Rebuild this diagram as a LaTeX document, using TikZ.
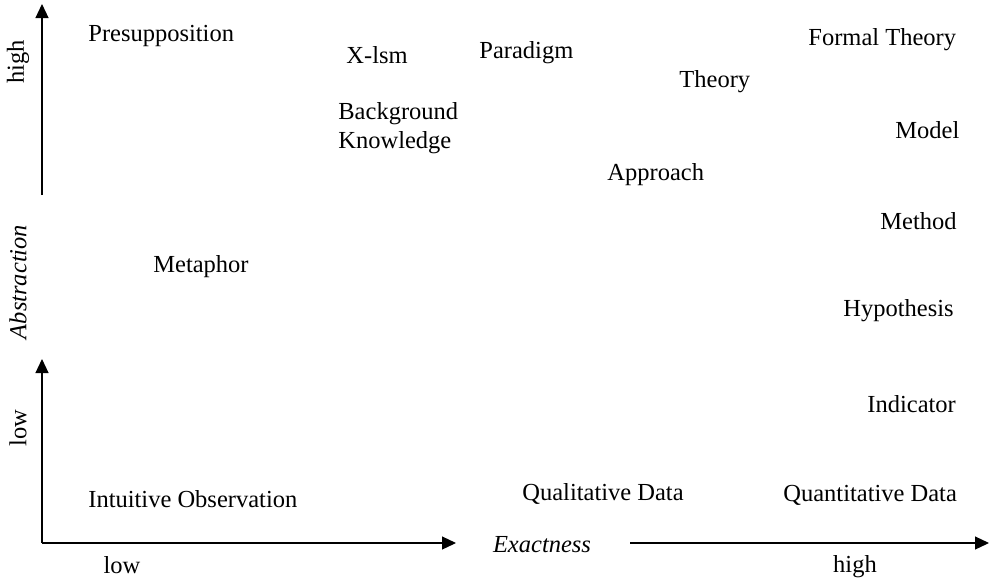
\documentclass[tikz,border=0pt]{standalone}
\usepackage{fontspec}
\setmainfont{Liberation Serif}
\usetikzlibrary{arrows.meta}
\def\axisx{42}
\def\axisy{543}
\newcommand{\concept}[4]{
    \node[concept] (#1) at (#2,-#3) {#4};
}
\tikzset{
    concept/.style={anchor=west, inner sep=0pt, align=left, yshift=-1.5pt,
        font=\fontsize{12.25}{14.5}\selectfont},
    axislabel/.style={inner sep=0pt, font=\fontsize{12.25}{14.5}\selectfont},
    axis/.style={line width=0.6pt, -{Triangle[length=7pt,width=6.5pt]}},
}

\begin{document}
\begin{tikzpicture}[x=0.5pt,y=0.5pt]
            \useasboundingbox (0,0) rectangle (990,-579);
            % axes
            \coordinate (origin) at (\axisx,-\axisy);
            \coordinate (vmid) at (\axisx,-195);
            \coordinate (vtop) at (\axisx,-4);
            \coordinate (vlow) at (\axisx,-359);
            \coordinate (hmid) at (456,-\axisy);
            \coordinate (hstart) at (630,-\axisy);
            \coordinate (hend) at (989,-\axisy);
            \draw[axis] (vmid) -- (vtop);
            \draw[axis] (origin) -- (vlow);
            \draw[axis] (origin) -- (hmid);
            \draw[axis] (hstart) -- (hend);
            % axis labels
            \node[axislabel, rotate=90] (ahigh) at (18,-62) {high};
            \node[axislabel, rotate=90, font=\fontsize{12.25}{14.5}\selectfont\itshape] (abstr) at (18,-282) {Abstraction};
            \node[axislabel, rotate=90] (alow) at (18,-428) {low};
            \node[axislabel] (elow) at (122,-565) {low};
            \node[axislabel, font=\fontsize{12.25}{14.5}\selectfont\itshape] (exact) at (542,-545) {Exactness};
            \node[axislabel] (ehigh) at (855,-567) {high};
            % concepts
            \concept{presup}{88}{33}{Presupposition}
            \concept{xism}{346}{52}{X-lsm}
            \concept{paradigm}{479}{50}{Paradigm}
            \concept{formal}{808}{37}{Formal Theory}
            \concept{theory}{679}{79}{Theory}
            \concept{backgr}{338}{125}{Background\\Knowledge}
            \concept{model}{895}{127}{Model}
            \concept{approach}{607}{172}{Approach}
            \concept{method}{880}{218}{Method}
            \concept{metaphor}{153}{264}{Metaphor}
            \concept{hypo}{843}{308}{Hypothesis}
            \concept{indicator}{867}{401}{Indicator}
            \concept{intuitive}{88}{496}{Intuitive Observation}
            \concept{qualdata}{522}{491}{Qualitative Data}
            \concept{quantdata}{783}{492}{Quantitative Data}
        \end{tikzpicture}
\end{document}
